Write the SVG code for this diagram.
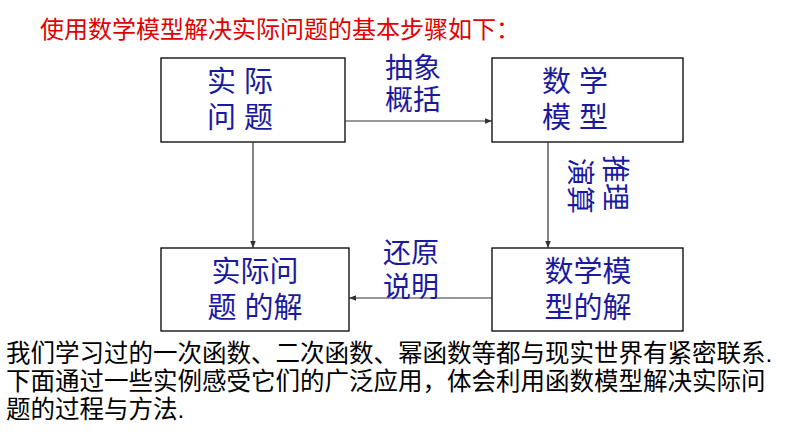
<svg xmlns="http://www.w3.org/2000/svg" width="794" height="447" viewBox="0 0 794 447">
<style>
.box{fill:#fff;stroke:#000;stroke-width:1.3}
.bt{font-family:"Liberation Sans","Noto Sans CJK SC",sans-serif;font-size:29px;fill:#1a1aa0;text-anchor:middle}
.lb{font-family:"Liberation Sans","Noto Sans CJK SC",sans-serif;font-size:28px;fill:#1a1aa0}
.ln{stroke:#333;stroke-width:1.2;fill:none;marker-end:url(#a)}
.tx{font-family:"Liberation Sans","Noto Sans CJK SC",sans-serif;font-size:24.5px;fill:#000}
</style>
<defs><marker id="a" viewBox="0 0 10 10" refX="10" refY="5" markerWidth="6" markerHeight="6" orient="auto"><path d="M0,1 L10,5 L0,9 z" fill="#333"/></marker></defs>
<rect width="794" height="447" fill="#fff"/>
<text x="40" y="38" font-family="Liberation Sans,Noto Sans CJK SC,sans-serif" font-size="24" fill="#e00000">使用数学模型解决实际问题的基本步骤如下：</text>
<g id="n1"><rect class="box" x="161" y="58" width="184" height="84"/><text class="bt" x="240" y="92">实 际</text><text class="bt" x="240" y="128">问 题</text></g>
<g id="n2"><rect class="box" x="492" y="58" width="191" height="84"/><text class="bt" x="575" y="92">数 学</text><text class="bt" x="575" y="128">模 型</text></g>
<g id="n3"><rect class="box" x="161" y="248" width="188" height="83"/><text class="bt" x="255" y="282">实际问</text><text class="bt" x="255" y="318">题 的解</text></g>
<g id="n4"><rect class="box" x="492" y="248" width="191" height="83"/><text class="bt" x="588" y="282">数学模</text><text class="bt" x="588" y="318">型的解</text></g>
<g id="edges">
<path class="ln" d="M345,121 H492"/>
<path class="ln" d="M548,142 V248"/>
<path class="ln" d="M492,298 H349"/>
<path class="ln" d="M253,142 V248"/>
</g>
<text class="lb" x="385" y="78">抽象</text><text class="lb" x="385" y="110">概括</text>
<text class="lb" transform="translate(605,155) rotate(90)" font-size="27">推理</text>
<text class="lb" transform="translate(570,158) rotate(90)" font-size="27">演算</text>
<text class="lb" x="383" y="263">还原</text><text class="lb" x="383" y="297">说明</text>
<text class="tx" x="6" y="362">我们学习过的一次函数、二次函数、幂函数等都与现实世界有紧密联系.</text>
<text class="tx" x="6" y="390">下面通过一些实例感受它们的广泛应用，体会利用函数模型解决实际问</text>
<text class="tx" x="6" y="418">题的过程与方法.</text>
</svg>
